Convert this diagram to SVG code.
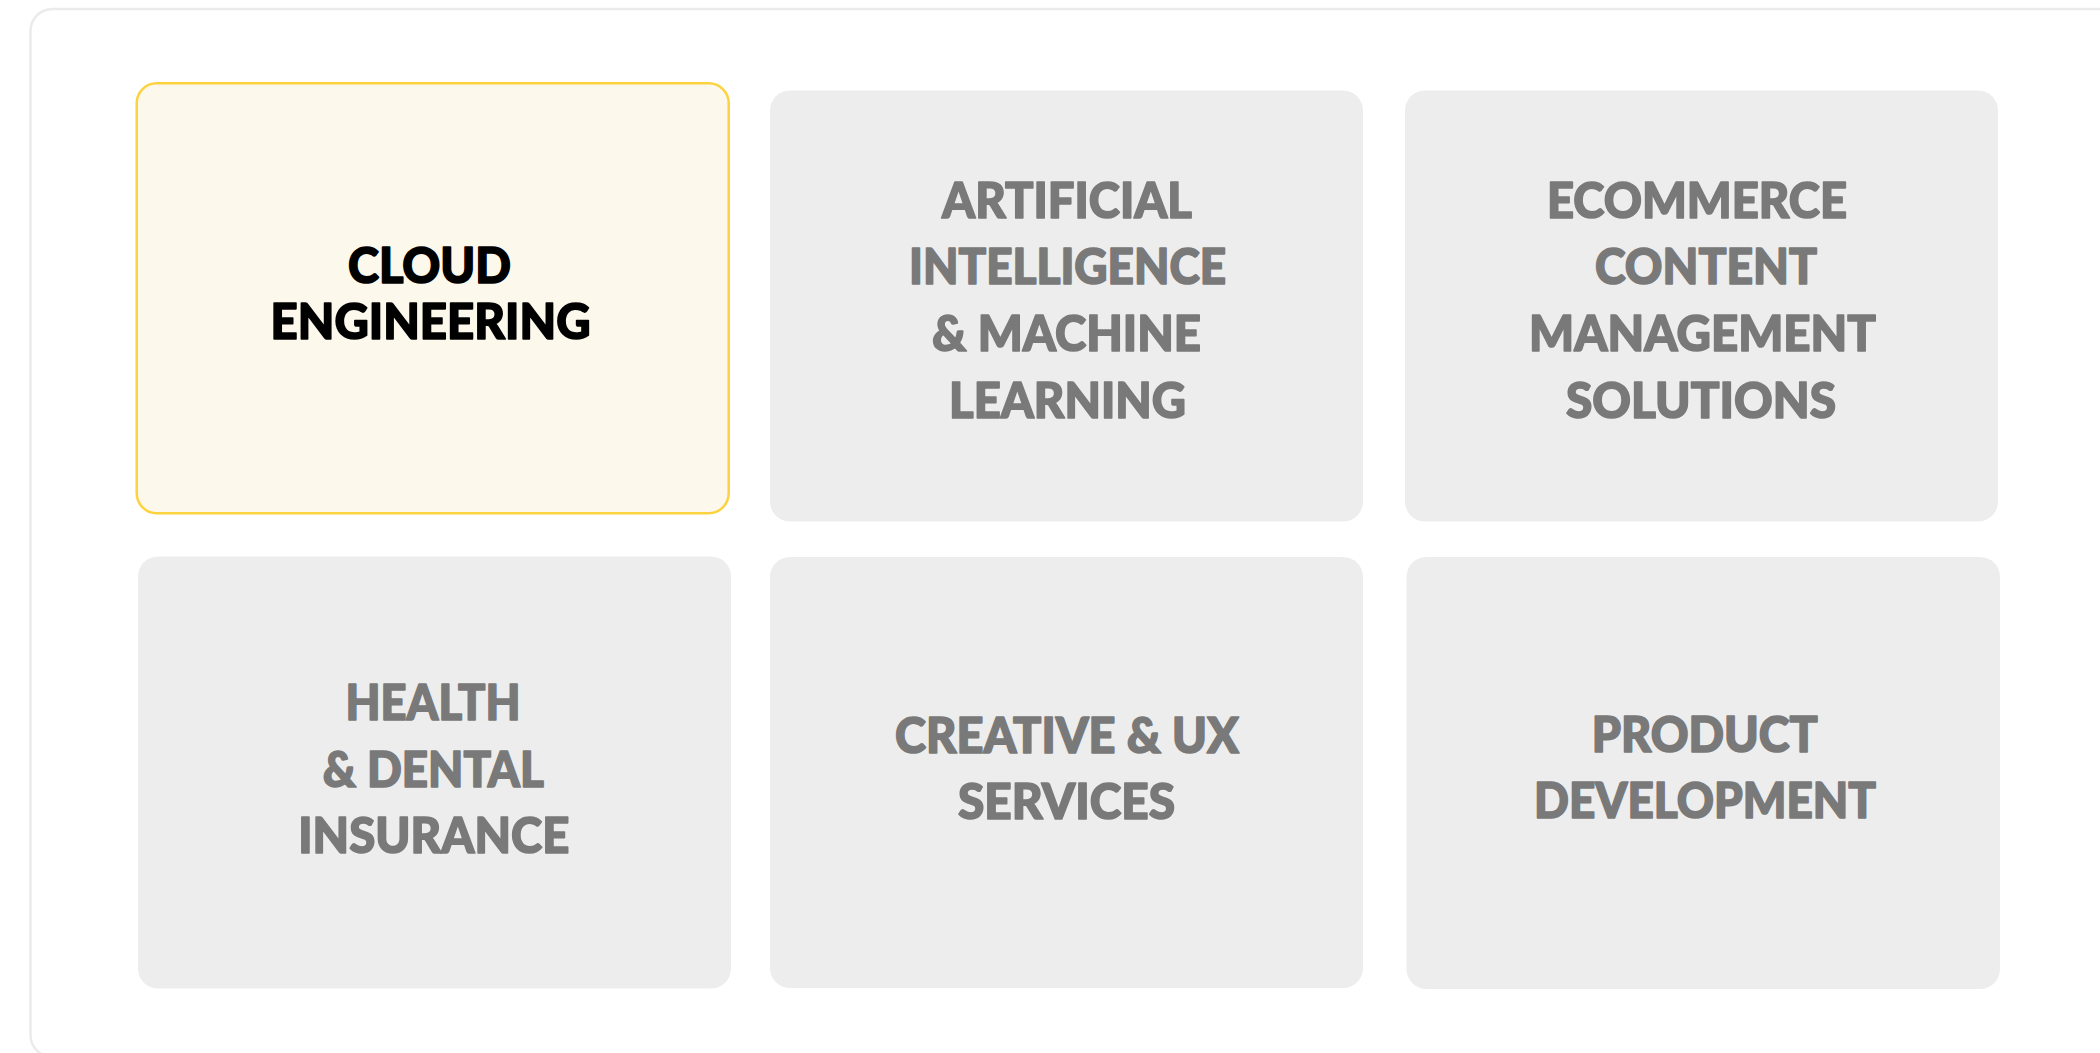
<svg xmlns="http://www.w3.org/2000/svg" width="2100" height="1053" viewBox="0 0 2100 1053">
<style>
  .card { fill: #ededed; }
  .active { fill: #fcf8ec; stroke: #fdd23f; stroke-width: 2.5; }
  .lbl { font-family: Lato, "Liberation Sans", Arial, sans-serif; font-weight: 900; font-size: 49px; text-anchor: middle; fill: #797979; stroke: #797979; stroke-width: 1.6; stroke-linejoin: round; }
  .lbl.dark { fill: #000000; stroke: #000000; }
</style>
<rect x="0" y="0" width="2100" height="1053" fill="#ffffff"/>
<rect id="container" x="30.5" y="9" width="2120" height="1048" rx="22" ry="22" fill="#ffffff" stroke="#ebebeb" stroke-width="2.5"/>
<g id="connectors"/>
<g id="node-cloud">
  <rect class="active" x="136.7" y="83.3" width="592" height="430" rx="20" ry="20"/>
  <text class="lbl dark" x="429.5" y="282.7" textLength="163" lengthAdjust="spacingAndGlyphs">CLOUD</text>
  <text class="lbl dark" x="430.5" y="339" textLength="320" lengthAdjust="spacingAndGlyphs">ENGINEERING</text>
</g>
<g id="node-ai">
  <rect class="card" x="770" y="90.5" width="593" height="431" rx="20" ry="20"/>
  <text class="lbl" x="1067" y="217.7" textLength="250" lengthAdjust="spacingAndGlyphs">ARTIFICIAL</text>
  <text class="lbl" x="1067.5" y="284.3" textLength="317" lengthAdjust="spacingAndGlyphs">INTELLIGENCE</text>
  <text class="lbl" x="1066.5" y="351" textLength="269" lengthAdjust="spacingAndGlyphs">&amp; MACHINE</text>
  <text class="lbl" x="1067.5" y="417.7" textLength="237" lengthAdjust="spacingAndGlyphs">LEARNING</text>
</g>
<g id="node-ecommerce">
  <rect class="card" x="1405" y="90.5" width="593" height="431" rx="20" ry="20"/>
  <text class="lbl" x="1697" y="217.7" textLength="300" lengthAdjust="spacingAndGlyphs">ECOMMERCE</text>
  <text class="lbl" x="1706" y="284.3" textLength="222" lengthAdjust="spacingAndGlyphs">CONTENT</text>
  <text class="lbl" x="1702.5" y="351" textLength="347" lengthAdjust="spacingAndGlyphs">MANAGEMENT</text>
  <text class="lbl" x="1701" y="417.7" textLength="270" lengthAdjust="spacingAndGlyphs">SOLUTIONS</text>
</g>
<g id="node-health">
  <rect class="card" x="138" y="556.5" width="593" height="432" rx="20" ry="20"/>
  <text class="lbl" x="433" y="720" textLength="175" lengthAdjust="spacingAndGlyphs">HEALTH</text>
  <text class="lbl" x="433.3" y="786.7" textLength="221" lengthAdjust="spacingAndGlyphs">&amp; DENTAL</text>
  <text class="lbl" x="433.8" y="853.3" textLength="271" lengthAdjust="spacingAndGlyphs">INSURANCE</text>
</g>
<g id="node-creative">
  <rect class="card" x="770" y="557" width="593" height="431" rx="20" ry="20"/>
  <text class="lbl" x="1067" y="752.7" textLength="344" lengthAdjust="spacingAndGlyphs">CREATIVE &amp; UX</text>
  <text class="lbl" x="1066.5" y="819.3" textLength="217" lengthAdjust="spacingAndGlyphs">SERVICES</text>
</g>
<g id="node-product">
  <rect class="card" x="1406.5" y="557" width="593.5" height="432" rx="20" ry="20"/>
  <text class="lbl" x="1704.7" y="751.7" textLength="226" lengthAdjust="spacingAndGlyphs">PRODUCT</text>
  <text class="lbl" x="1705" y="818.3" textLength="342" lengthAdjust="spacingAndGlyphs">DEVELOPMENT</text>
</g>
</svg>
